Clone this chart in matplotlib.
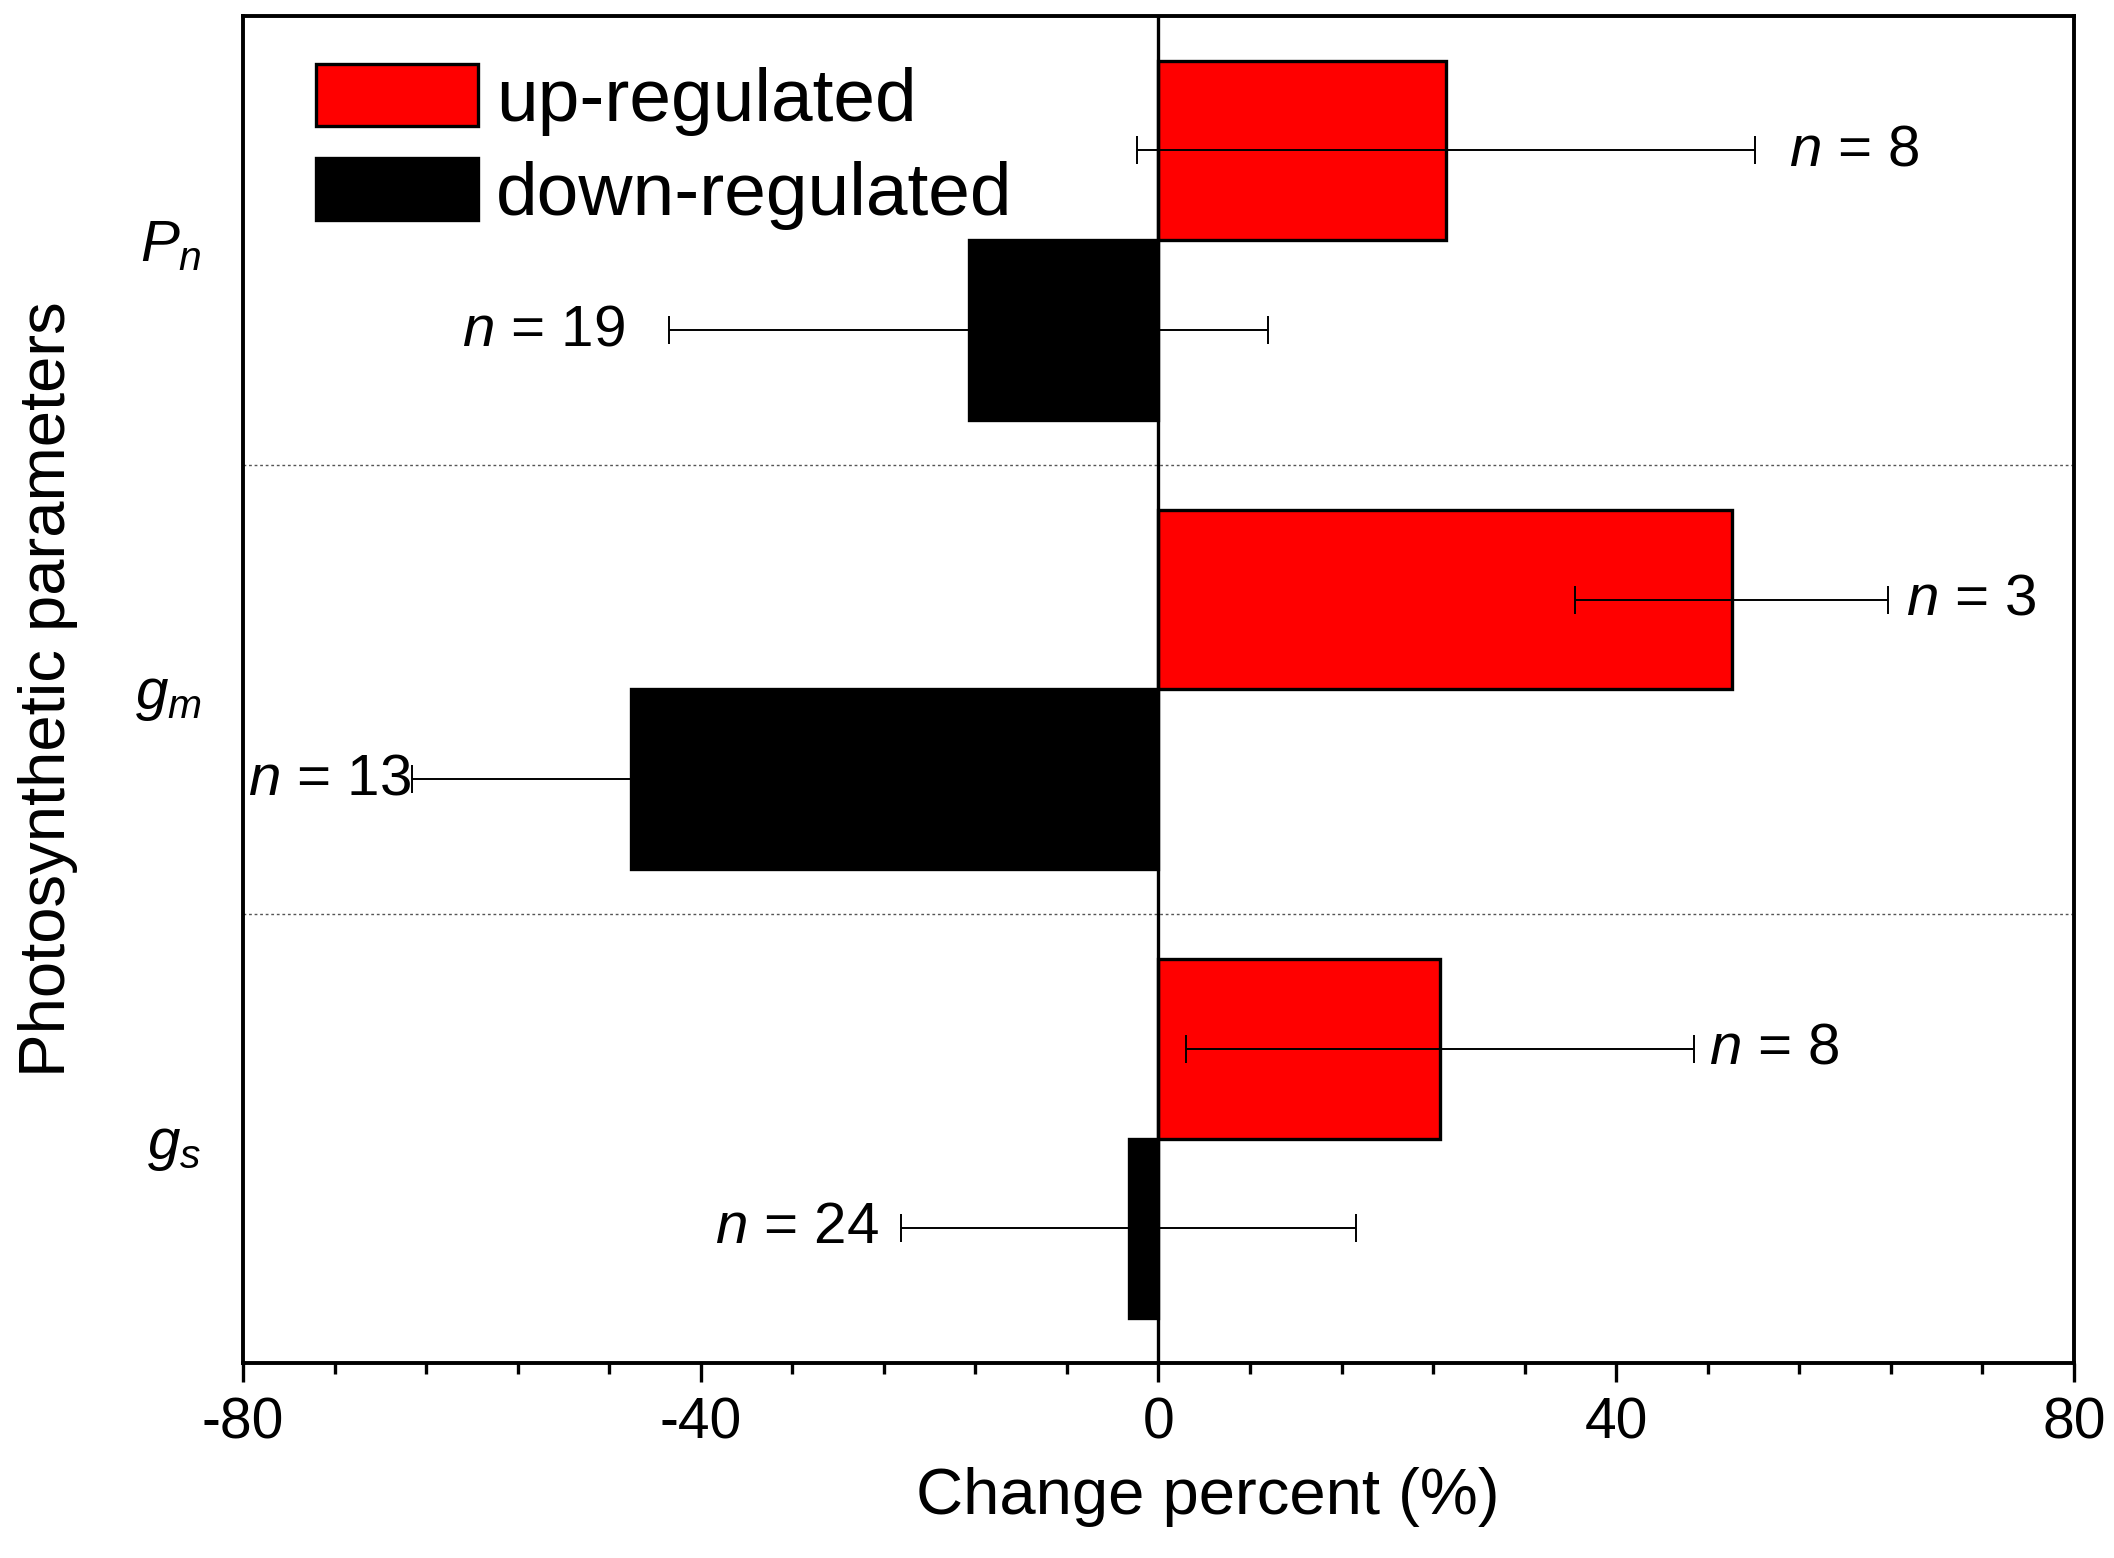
import matplotlib.pyplot as plt
import numpy as np
from matplotlib.ticker import MultipleLocator

plt.rcParams['font.family'] = ['Liberation Sans', 'DejaVu Sans']
plt.rcParams['axes.unicode_minus'] = False
plt.rcParams['mathtext.fontset'] = 'custom'
plt.rcParams['mathtext.rm'] = 'Liberation Sans'
plt.rcParams['mathtext.it'] = 'Liberation Sans:italic'

params = ['$P_n$', '$g_m$', '$g_s$']
up_mean = [25.1, 50.1, 24.6]
up_sd = [27.0, 13.7, 22.2]
up_n = [8, 3, 8]
down_mean = [-16.6, -46.1, -2.6]
down_sd = [26.2, 19.1, 19.9]
down_n = [19, 13, 24]

# gap between error bar end and "n = .." label
up_gap = [3.0, 1.5, 1.3]
down_gap = [3.8, 0.1, 1.9]

y = np.arange(len(params))[::-1]
up_mean, up_sd, down_mean, down_sd = map(np.array, (up_mean, up_sd, down_mean, down_sd))

fig = plt.figure(figsize=(21.14, 15.58), dpi=100)
ax = fig.add_axes([0.115, 0.125, 0.866, 0.865])

ax.barh(y + 0.2, up_mean, height=0.4, color='#ff0000', edgecolor='black', lw=2.4,
        label='up-regulated', zorder=2)
ax.barh(y - 0.2, down_mean, height=0.4, color='black', edgecolor='black', lw=2.4,
        label='down-regulated', zorder=2)
ax.errorbar(up_mean, y + 0.2, xerr=up_sd, fmt='none', ecolor='black', elinewidth=1.4,
            capsize=10, capthick=1.4, zorder=3)
ax.errorbar(down_mean, y - 0.2, xerr=down_sd, fmt='none', ecolor='black', elinewidth=1.4,
            capsize=10, capthick=1.4, zorder=3)

for i in range(len(params)):
    ax.text(up_mean[i] + up_sd[i] + up_gap[i], y[i] + 0.2, '$n$ = %d' % up_n[i],
            ha='left', va='center', fontsize=42)
    ax.text(down_mean[i] - down_sd[i] - down_gap[i], y[i] - 0.2, '$n$ = %d' % down_n[i],
            ha='right', va='center', fontsize=42)

ax.axvline(0, color='black', lw=2.4, zorder=4)
for yy in (0.5, 1.5):
    ax.axhline(yy, color='#555555', lw=1.0, ls=(0, (2, 2)), zorder=1)

ax.set_xlim(-80, 80)
ax.set_ylim(-0.5, 2.5)
ax.xaxis.set_major_locator(MultipleLocator(40))
ax.xaxis.set_minor_locator(MultipleLocator(8))
ax.tick_params(axis='x', which='major', direction='out', length=14, width=2.4,
               labelsize=41, pad=10)
ax.tick_params(axis='x', which='minor', direction='out', length=8, width=2.4)
ax.set_yticks(y)
ax.set_yticklabels(params, fontsize=42)
ax.tick_params(axis='y', length=0, pad=30)
for s in ax.spines.values():
    s.set_linewidth(2.8)

ax.set_xlabel('Change percent (%)', fontsize=47)
ax.xaxis.set_label_coords(0.527, -0.077)
ax.set_ylabel('Photosynthetic parameters', fontsize=47)
ax.yaxis.set_label_coords(-0.090, 0.5)

ax.legend(loc='upper left', bbox_to_anchor=(0.04, 0.964), frameon=False, fontsize=54,
          borderpad=0, borderaxespad=0, handlelength=2.15, handleheight=0.89,
          handletextpad=0.25, labelspacing=0.3)

plt.savefig('out.png', dpi=100)
